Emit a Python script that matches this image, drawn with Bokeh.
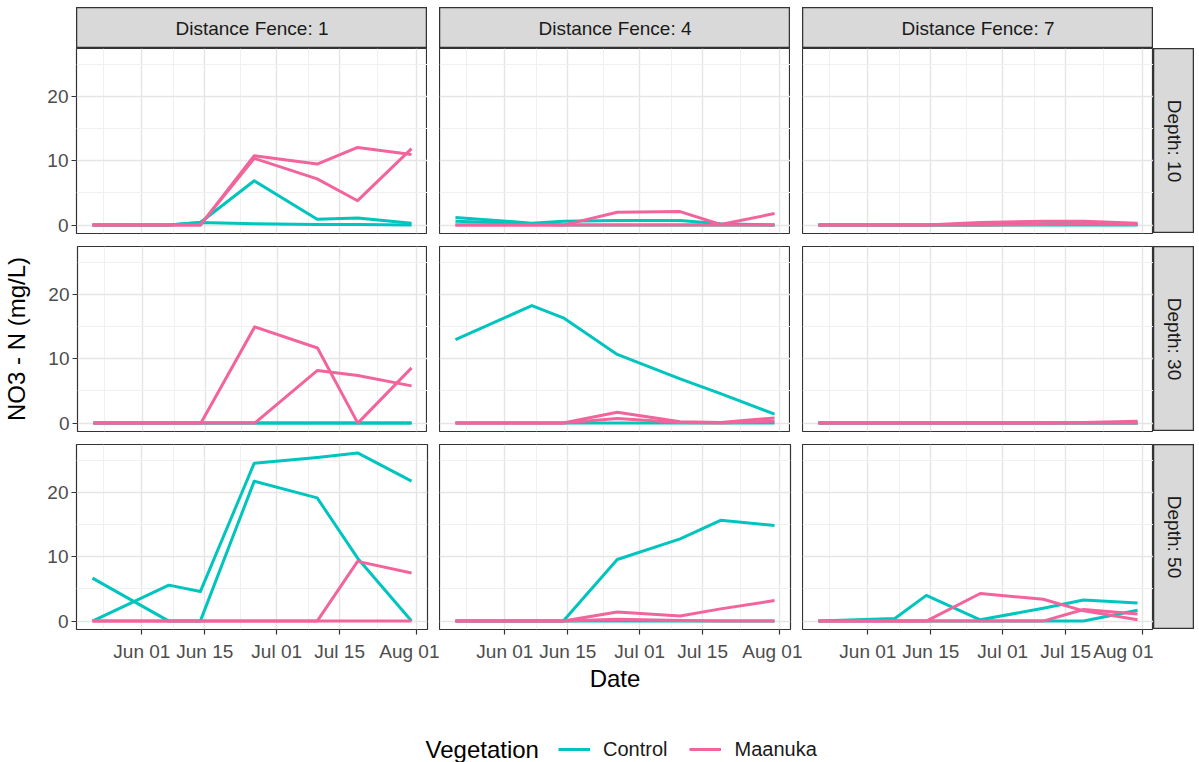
import math
import pandas as pd
from bokeh.plotting import figure
from bokeh.layouts import column, row
from bokeh.models import (Range1d, FixedTicker, Grid, LinearAxis, DatetimeAxis,
                          DatetimeTickFormatter, Label, Legend, LegendItem, Spacer)
from bokeh.embed import file_html
from bokeh.resources import INLINE

# ---- data -------------------------------------------------------------
dates = ["2019-05-21", "2019-06-07", "2019-06-14", "2019-06-26",
         "2019-07-10", "2019-07-19", "2019-07-31"]
fences = [1, 4, 7]
depths = [10, 30, 50]
vegetation = ["Control", "Maanuka"]
veg_colors = ["#00C5BE", "#F2649C"]

x_breaks = ["2019-06-01", "2019-06-15", "2019-07-01", "2019-07-15", "2019-08-01"]
x_minor = ["2019-05-23 12:00", "2019-06-08 00:00", "2019-06-23 00:00",
           "2019-07-08 00:00", "2019-07-23 12:00"]
y_breaks = [0, 10, 20]
y_minor = [5, 15, 25]

# two sampling plots per vegetation type in every fence/depth cell
control_f1_d10 = [[0, 0, 0.4, 6.9, 0.9, 1.1, 0.3], [0, 0, 0.4, 0.2, 0.1, 0.1, 0.0]]
maanuka_f1_d10 = [[0, 0, 0, 10.8, 9.5, 12.1, 11.0], [0, 0, 0, 10.4, 7.2, 3.8, 11.9]]
control_f4_d10 = [[1.2, 0.3, 0.6, 0.7, 0.7, 0.2, 0.0], [0.6, 0.2, 0.0, 0.0, 0.0, 0.0, 0.0]]
maanuka_f4_d10 = [[0, 0, 0, 2.0, 2.1, 0.1, 1.8], [0, 0, 0, 0, 0, 0, 0]]
control_f7_d10 = [[0, 0, 0, 0, 0.2, 0.3, 0.1], [0, 0, 0, 0, 0, 0, 0]]
maanuka_f7_d10 = [[0, 0, 0, 0.4, 0.6, 0.6, 0.3], [0, 0, 0, 0, 0.1, 0.2, 0.1]]

control_f1_d30 = [[0, 0, 0, 0, 0, 0, 0], [0, 0, 0, 0, 0, 0, 0]]
maanuka_f1_d30 = [[0, 0, 0, 15.0, 11.7, 0.0, 8.6], [0, 0, 0, 0, 8.2, 7.4, 5.8]]
control_f4_d30 = [[13.0, 18.3, 16.4, 10.7, 6.9, 4.6, 1.4], [0, 0, 0, 0, 0, 0, 0]]
maanuka_f4_d30 = [[0, 0, 0, 1.7, 0.2, 0.1, 0.8], [0, 0, 0, 0.7, 0.1, 0, 0.3]]
control_f7_d30 = [[0, 0, 0, 0, 0, 0, 0], [0, 0, 0, 0, 0, 0, 0]]
maanuka_f7_d30 = [[0, 0, 0, 0, 0, 0.1, 0.3], [0, 0, 0, 0, 0, 0, 0]]

control_f1_d50 = [[6.7, 0.0, 0.0, 21.8, 19.2, 9.8, 0.0], [0.0, 5.6, 4.6, 24.6, 25.5, 26.2, 21.8]]
maanuka_f1_d50 = [[0, 0, 0, 0, 0, 9.3, 7.5], [0, 0, 0, 0, 0, 0, 0]]
control_f4_d50 = [[0, 0, 0, 9.6, 12.8, 15.7, 14.9], [0, 0, 0, 0, 0, 0, 0]]
maanuka_f4_d50 = [[0, 0, 0, 1.4, 0.8, 1.9, 3.2], [0, 0, 0, 0.3, 0.1, 0, 0]]
control_f7_d50 = [[0, 0.4, 4.0, 0.2, 2.0, 3.3, 2.8], [0, 0, 0, 0, 0, 0, 1.7]]
maanuka_f7_d50 = [[0, 0, 0, 4.3, 3.4, 1.6, 0.2], [0, 0, 0, 0, 0, 1.8, 1.1]]

cells = {
    (1, 10): (control_f1_d10, maanuka_f1_d10),
    (4, 10): (control_f4_d10, maanuka_f4_d10),
    (7, 10): (control_f7_d10, maanuka_f7_d10),
    (1, 30): (control_f1_d30, maanuka_f1_d30),
    (4, 30): (control_f4_d30, maanuka_f4_d30),
    (7, 30): (control_f7_d30, maanuka_f7_d30),
    (1, 50): (control_f1_d50, maanuka_f1_d50),
    (4, 50): (control_f4_d50, maanuka_f4_d50),
    (7, 50): (control_f7_d50, maanuka_f7_d50),
}

# ---- styling / geometry ----------------------------------------------
FONT = "Liberation Sans"
PANEL_W, PANEL_H = 351, 185
LEFT_PAD, BOTTOM_PAD = 76, 83
GAP_W, GAP_H = 12, 13
INNER_PAD = 6            # room below inner panels for the "0" tick label
STRIP = 41
TOP_PAD = 7
BORDER = "#333333"


def to_ms(values):
    stamps = pd.to_datetime(values, format="mixed")
    return list((stamps - pd.Timestamp("1970-01-01")) / pd.Timedelta(milliseconds=1))


date_ms = to_ms(dates)
xb_ms = to_ms(x_breaks)
xm_ms = to_ms(x_minor)

# shared scales with ggplot-like 5% expansion
span_x = max(date_ms) - min(date_ms)
x_rng = Range1d(min(date_ms) - 0.05 * span_x, max(date_ms) + 0.05 * span_x)
all_vals = [v for pair in cells.values() for grp in pair for s in grp for v in s]
y_lo, y_hi = min(all_vals), max(all_vals)
span_y = y_hi - y_lo
y_rng = Range1d(y_lo - 0.05 * span_y, y_hi + 0.05 * span_y)


def make_panel(fi, di):
    left = fi == 0
    bottom = di == len(depths) - 1
    last_col = fi == len(fences) - 1
    pad_b = BOTTOM_PAD if bottom else INNER_PAD
    pad_r = GAP_W if (bottom and not last_col) else 0
    pad_l = LEFT_PAD if left else 0
    p = figure(width=PANEL_W + pad_l + pad_r, height=PANEL_H + pad_b,
               x_range=x_rng, y_range=y_rng,
               x_axis_type=None, y_axis_type=None,
               toolbar_location=None, output_backend="svg",
               min_border=0, min_border_left=pad_l, min_border_right=pad_r,
               min_border_bottom=pad_b, align="start")
    p.background_fill_color = "white"
    p.border_fill_color = "white"
    p.outline_line_color = BORDER
    p.outline_line_width = 1.2

    p.add_layout(Grid(dimension=0, ticker=FixedTicker(ticks=xb_ms, minor_ticks=xm_ms),
                      grid_line_color="#E5E5E5", grid_line_width=1.4,
                      minor_grid_line_color="#F0F0F0", minor_grid_line_width=1.0), "center")
    p.add_layout(Grid(dimension=1, ticker=FixedTicker(ticks=y_breaks, minor_ticks=y_minor),
                      grid_line_color="#E5E5E5", grid_line_width=1.4,
                      minor_grid_line_color="#F0F0F0", minor_grid_line_width=1.0), "center")

    axis_style = dict(axis_line_color=None, major_tick_line_color=BORDER,
                      major_tick_line_width=1.2,
                      major_tick_out=5, major_tick_in=0, minor_tick_out=0, minor_tick_in=0,
                      major_label_text_font=FONT, major_label_text_font_size="19px",
                      major_label_text_color="#4D4D4D",
                      axis_label_text_font=FONT, axis_label_text_font_size="24px",
                      axis_label_text_font_style="normal", axis_label_text_color="black")
    if left:
        ya = LinearAxis(ticker=FixedTicker(ticks=y_breaks), major_label_standoff=3,
                        axis_label_standoff=15, **axis_style)
        if di == 1:
            ya.axis_label = "NO3 - N (mg/L)"
        p.add_layout(ya, "left")
    if bottom:
        xa = DatetimeAxis(ticker=FixedTicker(ticks=xb_ms),
                          formatter=DatetimeTickFormatter(days="%b %d", months="%b %d",
                                                          strip_leading_zeros=False),
                          major_label_standoff=6, axis_label_standoff=0, **axis_style)
        if fi == 1:
            xa.axis_label = "Date"
        p.add_layout(xa, "below")

    control, maanuka = cells[(fences[fi], depths[di])]
    for series, color in ((control, veg_colors[0]), (maanuka, veg_colors[1])):
        for vals in series:
            p.line(x=date_ms, y=vals, line_color=color, line_width=3,
                   line_join="round")
    return p


def make_strip(text, w, h, vertical):
    s = figure(width=w, height=h, x_range=Range1d(0, 1), y_range=Range1d(0, 1),
               x_axis_type=None, y_axis_type=None, toolbar_location=None,
               output_backend="svg", min_border=0, align="start")
    s.background_fill_color = "#D9D9D9"
    s.border_fill_color = "#D9D9D9"
    s.outline_line_color = BORDER
    s.outline_line_width = 1.5
    s.add_layout(Label(x=0.5, y=0.5, text=text, text_align="center",
                       text_baseline="middle", angle=-math.pi / 2 if vertical else 0,
                       text_font=FONT, text_font_size="19px", text_color="#1A1A1A"))
    return s


# column strips across the top
top_items = [Spacer(width=LEFT_PAD, height=STRIP)]
for fi, f in enumerate(fences):
    if fi:
        top_items.append(Spacer(width=GAP_W, height=STRIP))
    top_items.append(make_strip(f"Distance Fence: {f}", PANEL_W, STRIP, False))

rows = []
for di, d in enumerate(depths):
    bottom = di == len(depths) - 1
    items = []
    for fi in range(len(fences)):
        if fi and not bottom:
            items.append(Spacer(width=GAP_W, height=PANEL_H))
        items.append(make_panel(fi, di))
    pad_b = BOTTOM_PAD if bottom else INNER_PAD
    items.append(column(make_strip(f"Depth: {d}", STRIP, PANEL_H, True),
                        Spacer(width=STRIP, height=pad_b)))
    rows.append(row(*items, align="start"))

# legend strip at the bottom
leg = figure(width=1199, height=50, x_range=Range1d(0, 1199), y_range=Range1d(0, 50),
             x_axis_type=None, y_axis_type=None, toolbar_location=None,
             output_backend="svg", min_border=0)
leg.outline_line_color = None
leg_items = []
for veg, col in zip(vegetation, veg_colors):
    r = leg.line(x=[float("nan")], y=[float("nan")], line_color=col, line_width=3)
    leg_items.append(LegendItem(label=veg, renderers=[r]))
legend = Legend(items=leg_items, orientation="horizontal", location=(558, 1),
                padding=0, margin=0, spacing=22, glyph_width=32, glyph_height=24,
                label_height=24, label_standoff=13, label_text_font=FONT,
                label_text_font_size="20px", label_text_color="#1A1A1A",
                border_line_color=None, background_fill_alpha=0)
leg.add_layout(legend, "center")
leg.add_layout(Label(x=425, y=13, text="Vegetation", text_align="left",
                     text_baseline="middle", text_font=FONT, text_font_size="24px",
                     text_color="black"))

page = column(Spacer(width=1199, height=TOP_PAD),
              row(*top_items),
              rows[0], Spacer(height=GAP_H - INNER_PAD),
              rows[1], Spacer(height=GAP_H - INNER_PAD),
              rows[2],
              leg)

open("out.html", "w").write(file_html(page, INLINE))
